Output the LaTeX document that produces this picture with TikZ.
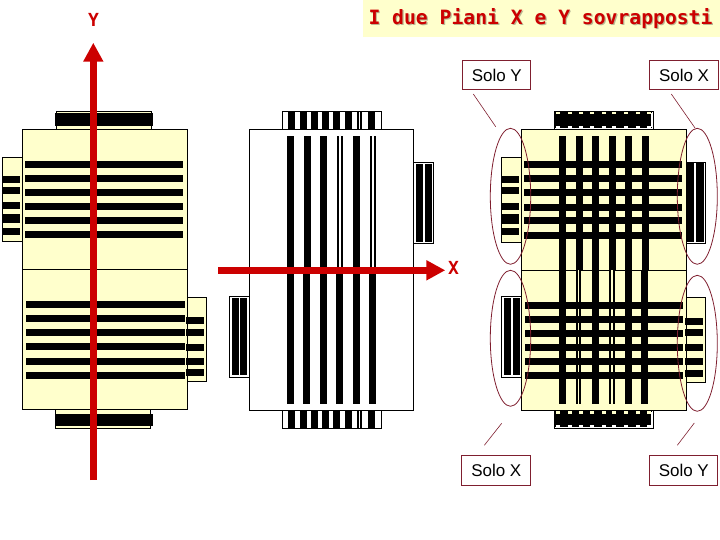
\documentclass[tikz,border=0pt]{standalone}
\usepackage{fontspec}
\setmainfont{Liberation Sans}
\newfontfamily\titlefont{DejaVu Sans Mono}[Scale=1]
\usetikzlibrary{arrows.meta}
\definecolor{pale}{HTML}{FFFFCC}
\definecolor{axisred}{HTML}{CC0000}
\definecolor{wine}{HTML}{7F1F2F}
\newcommand{\HBars}[4]{\foreach \yy in {#3} \fill[black] (#1,\yy) rectangle (#2,\yy+#4);}
\newcommand{\VBars}[3]{\foreach \xx/\xw in {#3} \fill[black] (\xx,#1) rectangle (\xx+\xw,#2);}
\tikzset{
  panel/.style={draw=black,line width=1pt},
  axis/.style={draw=axisred,line width=7pt,-{Triangle[length=19pt,width=19pt,fill=axisred]}},
  halo/.style={draw=wine,line width=0.8pt},
  leader/.style={draw=wine,line width=0.6pt},
  tag/.style={draw=wine,fill=white,line width=1pt,font=\fontsize{17}{17}\selectfont,inner sep=0pt,anchor=north west,align=center},
  axlabel/.style={text=axisred,font=\titlefont\bfseries\fontsize{18}{18}\selectfont,inner sep=0pt},
  titletext/.style={inner sep=0pt,font=\titlefont\bfseries\fontsize{19.7}{20}\selectfont},
}
\begin{document}
\begin{tikzpicture}[x=1pt,y=-1pt]
\useasboundingbox (0,0) rectangle (720,540);
% title
\fill[pale] (363,0) rectangle (720,37);
\node[titletext,text=black!28!pale] (titleshadow) at (541.7,19.7) {I due Piani X e Y sovrapposti};
\node[titletext,text=axisred] (title) at (540.5,18.5) {I due Piani X e Y sovrapposti};

% ---------- left panel (Y) ----------
\draw[panel,fill=pale] (56.5,111.3) rectangle (151.7,129.3);
\draw[panel,fill=pale] (2.3,157.3) rectangle (22.3,241.3);
\draw[panel,fill=pale] (187.7,297.3) rectangle (206.7,381.3);
\draw[panel,fill=pale] (55.3,409.3) rectangle (150.7,428.3);
\draw[panel,fill=pale] (22.3,129.3) rectangle (187.7,409.3);
\draw[panel] (22.3,269.3) -- (187.7,269.3);
\fill (55,112.7) rectangle (153,126);
\fill (55,414) rectangle (153,426);
\HBars{25}{183}{161,175,189,203,217,231}{7}
\HBars{26}{184.5}{301,315,329,343,358,372}{7}
\fill (2.3,176) rectangle (20,183);
\fill (2.3,187) rectangle (20,194);
\fill (2.3,202) rectangle (20,209);
\fill (2.3,214) rectangle (20,223);
\fill (2.3,228) rectangle (20,235);
\fill (186,317) rectangle (204,324);
\fill (186,329) rectangle (204,336);
\fill (186,344) rectangle (204,351);
\fill (186,358) rectangle (204,365);
\fill (186,369) rectangle (204,376);
\coordinate (ytail) at (93.3,480);
\coordinate (ytip) at (93.3,42.7);
\draw[axis] (ytail) -- (ytip);
\node[axlabel] (ylabel) at (93.5,20) {Y};

% ---------- middle panel (X) ----------
\draw[panel,fill=white] (282.3,111.3) rectangle (381.7,129.3);
\draw[panel,fill=white] (282.3,410.3) rectangle (381.7,428.3);
\draw[panel,fill=white] (413.7,162.3) rectangle (433.3,243.3);
\draw[panel,fill=white] (229.3,296.3) rectangle (249.3,377.3);
\draw[panel,fill=white] (249.3,129.3) rectangle (413.7,410.3);
\VBars{111.3}{129.3}{288/7,300/7,311/7,322/7,333/7,345/7,357/2,360/2,368/7}
\VBars{410.3}{428.3}{288/7,300/7,311/7,322/7,333/7,345/7,357/2,360/2,368/7}
\VBars{136}{270}{287/7,304/7,320/7,353/7}
\fill (337,136) rectangle (342.7,270);
\fill (370,136) rectangle (375.7,270);
\fill[white] (339.3,136) rectangle (340.5,270);
\fill[white] (372.3,136) rectangle (373.5,270);
\VBars{270}{404}{287/7,303/7,320/7,336/7,353/7,369/7}
\VBars{164}{242}{416/7,425/7}
\VBars{298}{375}{232/7,240/7}
\coordinate (xtail) at (218,270.3);
\coordinate (xtip) at (445.3,270.3);
\draw[axis] (xtail) -- (xtip);
\node[axlabel] (xlabel) at (453.5,268) {X};

% ---------- right panel (X+Y) ----------
\draw[panel,fill=white] (554,111.3) rectangle (653.7,129.3);
\draw[panel,fill=white] (554,410.3) rectangle (653.7,428.3);
\draw[panel,fill=pale] (501.3,157.3) rectangle (521.3,242.3);
\draw[panel,fill=white] (686.7,162.3) rectangle (705.7,243.3);
\draw[panel,fill=white] (501.3,296.3) rectangle (521.3,377.3);
\draw[panel,fill=pale] (686.7,297.3) rectangle (705.7,382.3);
\draw[panel,fill=pale] (521.3,129.3) rectangle (686.7,410.3);
\draw[panel] (521.3,270.3) -- (686.7,270.3);
\VBars{136}{270}{559/7,576/7,592/7,609/7,625/7,642/7}
\VBars{270}{404}{559/7,576/5.3,592/7,609/6,625/7,641/7}
\foreach \yy/\yb in {270/302,309/316,323/330,337/344,351/358,365/372,379/404}{
  \fill[pale] (578,\yy) rectangle (579.2,\yb);
  \fill[pale] (611.4,\yy) rectangle (612.6,\yb);
}
\HBars{524}{682}{161,175,189,204,217,232}{7}
\HBars{525}{683}{302,316,330,344,358,372}{7}
% top and bottom tabs
\fill (554.7,112) rectangle (651.7,128);
\fill (554.7,411) rectangle (651.7,427);
\foreach \xx in {556,568,579,590,602,612,624,636,647}{
  \fill[pale] (\xx,112.3) rectangle (\xx+4,114.2);
  \fill[white] (\xx,126) rectangle (\xx+4,128);
  \fill[pale] (\xx,411.3) rectangle (\xx+4,414);
  \fill[white] (\xx,425) rectangle (\xx+4,426.6);
}
\fill[white] (651,113) rectangle (652.8,127);
\fill[white] (651,412) rectangle (652.8,427);
% side tabs
\fill (501.3,176) rectangle (519,183);
\fill (501.3,187) rectangle (519,194);
\fill (501.3,203) rectangle (519,210);
\fill (501.3,214) rectangle (519,224);
\fill (501.3,228) rectangle (519,235);
\VBars{163}{242}{687.3/7,696/8}
\VBars{298}{375}{504/7,513/7}
\fill (685,318) rectangle (703,325);
\fill (685,329) rectangle (703,336);
\fill (685,344) rectangle (703,351);
\fill (685,358) rectangle (703,365);
\fill (685,370) rectangle (703,377);
% ellipses
\draw[halo] (510.5,196.3) ellipse [x radius=20.2,y radius=68];
\draw[halo] (697.3,196.3) ellipse [x radius=20,y radius=68];
\draw[halo] (510.5,338.3) ellipse [x radius=20.2,y radius=68];
\draw[halo] (697.3,343.3) ellipse [x radius=20,y radius=68];
% tags
\node[tag,minimum width=68pt,minimum height=29pt] (tagTL) at (462.3,60.3) {Solo Y};
\node[tag,minimum width=68.5pt,minimum height=29pt] (tagTR) at (649.3,60.3) {Solo X};
\node[tag,minimum width=69pt,minimum height=30pt] (tagBL) at (461.3,455.3) {Solo X};
\node[tag,minimum width=68pt,minimum height=30pt] (tagBR) at (649.3,455.3) {Solo Y};
\coordinate (l1a) at (473.3,94);
\coordinate (l1b) at (495.7,126.7);
\coordinate (l2a) at (671.3,94);
\coordinate (l2b) at (695,128);
\coordinate (l3a) at (484.3,445.3);
\coordinate (l3b) at (501.7,423.3);
\coordinate (l4a) at (677.3,445.3);
\coordinate (l4b) at (694.3,423);
\draw[leader] (l1a) -- (l1b);
\draw[leader] (l2a) -- (l2b);
\draw[leader] (l3a) -- (l3b);
\draw[leader] (l4a) -- (l4b);
\end{tikzpicture}
\end{document}
